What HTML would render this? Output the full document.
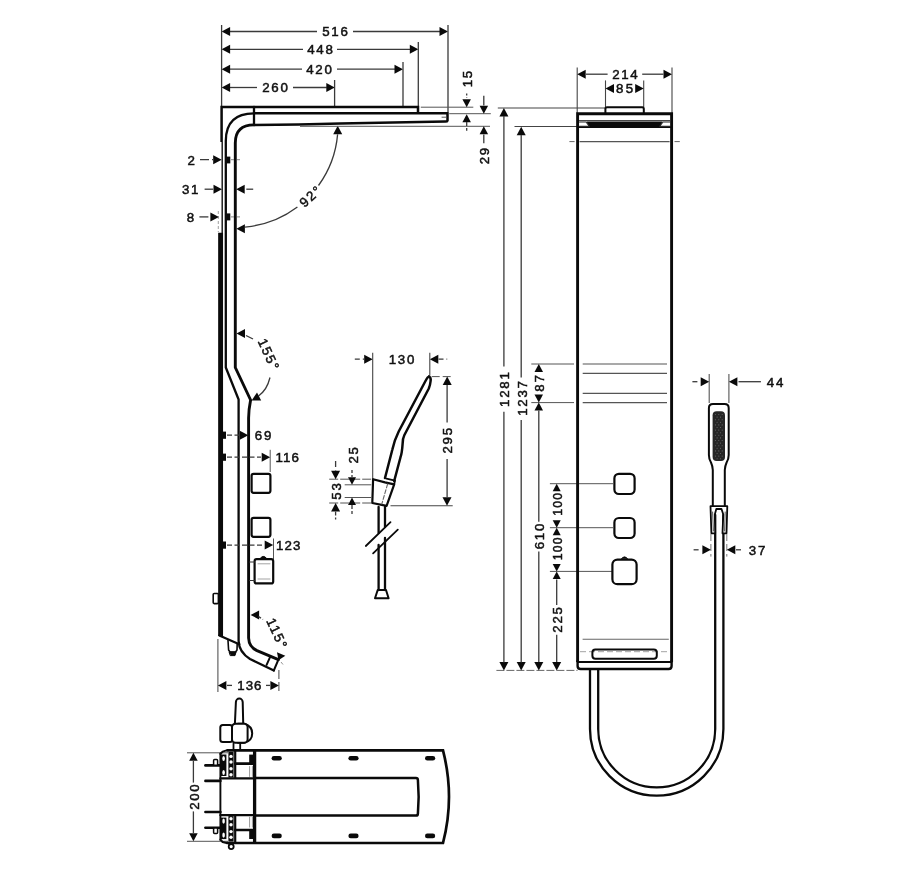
<!DOCTYPE html>
<html lang="en"><head><meta charset="utf-8"><title>Shower panel dimensions</title>
<style>
html,body{margin:0;padding:0;background:#fff;}
svg{display:block;filter:blur(0.4px);}
text{font-family:"Liberation Sans",sans-serif;fill:#111;stroke:#111;stroke-width:0.5px;}
</style></head><body>
<svg width="900" height="874" viewBox="0 0 900 874">
<rect width="900" height="874" fill="#fff"/>
<line x1="229.6" y1="31.5" x2="317.0" y2="31.5" stroke="#3a3a3a" stroke-width="1.3" stroke-linecap="butt"/>
<line x1="353.0" y1="31.5" x2="440.0" y2="31.5" stroke="#3a3a3a" stroke-width="1.3" stroke-linecap="butt"/>
<polygon points="221.6,31.5 230.1,27.0 230.1,36.0" fill="#0a0a0a"/>
<polygon points="448.0,31.5 439.5,27.0 439.5,36.0" fill="#0a0a0a"/>
<text x="335.9" y="36.3" text-anchor="middle" font-size="13.3" letter-spacing="1.7">516</text>
<line x1="229.6" y1="49.3" x2="303.0" y2="49.3" stroke="#3a3a3a" stroke-width="1.3" stroke-linecap="butt"/>
<line x1="337.0" y1="49.3" x2="410.3" y2="49.3" stroke="#3a3a3a" stroke-width="1.3" stroke-linecap="butt"/>
<polygon points="221.6,49.3 230.1,44.8 230.1,53.8" fill="#0a0a0a"/>
<polygon points="418.3,49.3 409.8,44.8 409.8,53.8" fill="#0a0a0a"/>
<text x="320.9" y="54.1" text-anchor="middle" font-size="13.3" letter-spacing="1.7">448</text>
<line x1="229.6" y1="69.2" x2="302.0" y2="69.2" stroke="#3a3a3a" stroke-width="1.3" stroke-linecap="butt"/>
<line x1="337.0" y1="69.2" x2="395.0" y2="69.2" stroke="#3a3a3a" stroke-width="1.3" stroke-linecap="butt"/>
<polygon points="221.6,69.2 230.1,64.7 230.1,73.7" fill="#0a0a0a"/>
<polygon points="403.0,69.2 394.5,64.7 394.5,73.7" fill="#0a0a0a"/>
<text x="319.9" y="74.0" text-anchor="middle" font-size="13.3" letter-spacing="1.7">420</text>
<line x1="229.6" y1="87.5" x2="257.0" y2="87.5" stroke="#3a3a3a" stroke-width="1.3" stroke-linecap="butt"/>
<line x1="293.0" y1="87.5" x2="326.8" y2="87.5" stroke="#3a3a3a" stroke-width="1.3" stroke-linecap="butt"/>
<polygon points="221.6,87.5 230.1,83.0 230.1,92.0" fill="#0a0a0a"/>
<polygon points="334.8,87.5 326.3,83.0 326.3,92.0" fill="#0a0a0a"/>
<text x="275.9" y="92.3" text-anchor="middle" font-size="13.3" letter-spacing="1.7">260</text>
<line x1="221.6" y1="25.0" x2="221.6" y2="106.0" stroke="#3a3a3a" stroke-width="1.3" stroke-linecap="butt"/>
<line x1="448.0" y1="25.0" x2="448.0" y2="113.0" stroke="#3a3a3a" stroke-width="1.3" stroke-linecap="butt"/>
<line x1="418.3" y1="42.0" x2="418.3" y2="106.0" stroke="#3a3a3a" stroke-width="1.3" stroke-linecap="butt"/>
<line x1="403.0" y1="62.0" x2="403.0" y2="106.0" stroke="#3a3a3a" stroke-width="1.3" stroke-linecap="butt"/>
<line x1="334.6" y1="80.0" x2="334.6" y2="106.0" stroke="#3a3a3a" stroke-width="1.3" stroke-linecap="butt"/>
<path d="M221.6,142 L221.6,107 L418,107 L418,113" fill="none" stroke="#0a0a0a" stroke-width="2.5" stroke-linejoin="miter" stroke-linecap="butt"/>
<path d="M254,107 L254,124.8" fill="none" stroke="#0a0a0a" stroke-width="2.3" stroke-linejoin="round" stroke-linecap="round"/>
<path d="M254,113.2 L447.5,113.2 L447.5,120.6 Q447.2,121.6 445.5,121.6 L340,123.6 Q300,124.9 254,124.9" fill="none" stroke="#0a0a0a" stroke-width="2.5" stroke-linejoin="round" stroke-linecap="round"/>
<path d="M442,117.2 L446,117.2" fill="none" stroke="#555" stroke-width="1" stroke-linejoin="round" stroke-linecap="round"/>
<path d="M254,113.4 Q225.8,113.4 225.8,141 L225.8,367.5 L238.6,399.5 L238.6,641 Q239,652 250,659 L273.8,670.5" fill="none" stroke="#0a0a0a" stroke-width="2.3" stroke-linejoin="round" stroke-linecap="round"/>
<path d="M254,124.9 Q235.3,124.9 235.3,143 L235.3,367.5 L250.6,400 Q248.6,410 248.6,418 L248.6,638 Q249,647 257,650.6 L278.4,659.6" fill="none" stroke="#0a0a0a" stroke-width="2.9" stroke-linejoin="round" stroke-linecap="round"/>
<path d="M270.4,656.4 L266.6,664.9 M278.4,659.6 L273.8,670.5" fill="none" stroke="#0a0a0a" stroke-width="2" stroke-linejoin="round" stroke-linecap="round"/>
<line x1="222.2" y1="142.0" x2="222.2" y2="233.0" stroke="#111" stroke-width="1.4" stroke-linecap="butt"/>
<line x1="218.3" y1="211.0" x2="218.3" y2="232.0" stroke="#888" stroke-width="0.8" stroke-dasharray="3 2" stroke-linecap="butt"/>
<line x1="220.6" y1="232.8" x2="220.6" y2="636.0" stroke="#0a0a0a" stroke-width="4.9" stroke-linecap="butt"/>
<path d="M219.3,635.4 L239.3,644.2" fill="none" stroke="#0a0a0a" stroke-width="2.2" stroke-linejoin="round" stroke-linecap="round"/>
<path d="M228,640.5 L228.6,650 L230,652 L235.6,652 L237,650 L237.2,643.5" fill="none" stroke="#0a0a0a" stroke-width="1.6" stroke-linejoin="round" stroke-linecap="round"/>
<path d="M229.5,652 L236,652 L235,655.6 L230.6,655.6 Z" fill="#0a0a0a" stroke="#0a0a0a" stroke-width="1" stroke-linejoin="round" stroke-linecap="round"/>
<rect x="213.2" y="593.5" width="5.2" height="10.1" rx="1" ry="1" fill="none" stroke="#0a0a0a" stroke-width="1.6"/>
<text x="192.0" y="164.5" text-anchor="middle" font-size="13.3" letter-spacing="1.7">2</text>
<line x1="200.0" y1="159.7" x2="213.0" y2="159.7" stroke="#3a3a3a" stroke-width="1.3" stroke-dasharray="9 3" stroke-linecap="butt"/>
<polygon points="221.7,159.7 213.2,155.2 213.2,164.2" fill="#0a0a0a"/>
<rect x="226.3" y="156.6" width="4" height="6.8" fill="#0a0a0a"/>
<line x1="231.0" y1="159.7" x2="240.0" y2="159.7" stroke="#777" stroke-width="0.9" stroke-dasharray="3 3" stroke-linecap="butt"/>
<text x="191.0" y="194.0" text-anchor="middle" font-size="13.3" letter-spacing="1.7">31</text>
<line x1="204.6" y1="189.2" x2="213.2" y2="189.2" stroke="#3a3a3a" stroke-width="1.3" stroke-linecap="butt"/>
<polygon points="222.0,189.2 213.5,184.7 213.5,193.7" fill="#0a0a0a"/>
<polygon points="236.2,189.2 244.7,184.7 244.7,193.7" fill="#0a0a0a"/>
<line x1="246.3" y1="189.2" x2="253.2" y2="189.2" stroke="#3a3a3a" stroke-width="1.3" stroke-linecap="butt"/>
<text x="191.2" y="221.7" text-anchor="middle" font-size="13.3" letter-spacing="1.7">8</text>
<line x1="199.4" y1="216.9" x2="210.3" y2="216.9" stroke="#3a3a3a" stroke-width="1.3" stroke-dasharray="9 3" stroke-linecap="butt"/>
<polygon points="218.9,216.9 210.4,212.4 210.4,221.4" fill="#0a0a0a"/>
<rect x="226.3" y="213.4" width="4" height="7" fill="#0a0a0a"/>
<line x1="231.0" y1="216.9" x2="240.0" y2="216.9" stroke="#777" stroke-width="0.9" stroke-dasharray="3 3" stroke-linecap="butt"/>
<path d="M337.6,134.4 A102,102 0 0 1 318.5,185.5" fill="none" stroke="#3a3a3a" stroke-width="1.3" stroke-linejoin="round" stroke-linecap="butt"/>
<path d="M297.4,207.0 A102,102 0 0 1 244.9,227.1" fill="none" stroke="#3a3a3a" stroke-width="1.3" stroke-linejoin="round" stroke-linecap="butt"/>
<polygon points="337.7,125.7 333.2,134.2 342.2,134.2" fill="#0a0a0a"/>
<polygon points="236.4,228.8 244.9,224.3 244.9,233.3" fill="#0a0a0a"/>
<text x="310.9" y="201.3" text-anchor="middle" font-size="13.3" letter-spacing="1.7" transform="rotate(-42 310.0 196.5)">92°</text>
<polygon points="236.5,333.5 245.0,329.0 245.0,338.0" fill="#0a0a0a"/>
<line x1="246.0" y1="335.5" x2="253.0" y2="339.0" stroke="#3a3a3a" stroke-width="1.3" stroke-linecap="butt"/>
<text x="269.5" y="358.8" text-anchor="middle" font-size="13.3" letter-spacing="1.7" transform="rotate(65 268.6 354.0)">155°</text>
<path d="M270,377.5 Q267,390 258.5,396" fill="none" stroke="#3a3a3a" stroke-width="1.3" stroke-linejoin="round" stroke-linecap="butt"/>
<polygon points="251.6,400.6 257.0,392.6 261.2,400.6" fill="#0a0a0a"/>
<rect x="222.6" y="431.6" width="3.4" height="7.2" fill="#0a0a0a"/>
<line x1="227.0" y1="435.2" x2="240.0" y2="435.2" stroke="#3a3a3a" stroke-width="1.3" stroke-dasharray="5 2.5" stroke-linecap="butt"/>
<polygon points="248.3,435.2 239.8,430.7 239.8,439.7" fill="#0a0a0a"/>
<text x="263.9" y="440.0" text-anchor="middle" font-size="13.3" letter-spacing="1.7">69</text>
<rect x="222.6" y="453.6" width="3.4" height="7.2" fill="#0a0a0a"/>
<line x1="227.0" y1="457.2" x2="261.0" y2="457.2" stroke="#3a3a3a" stroke-width="1.3" stroke-dasharray="5 2.5" stroke-linecap="butt"/>
<polygon points="270.2,457.2 261.7,452.7 261.7,461.7" fill="#0a0a0a"/>
<text x="287.8" y="462.0" text-anchor="middle" font-size="13.3" letter-spacing="1.2">116</text>
<line x1="270.2" y1="449.8" x2="270.2" y2="472.0" stroke="#555" stroke-width="1" stroke-linecap="butt"/>
<rect x="222.6" y="541.5" width="3.4" height="7.2" fill="#0a0a0a"/>
<line x1="227.0" y1="545.1" x2="264.0" y2="545.1" stroke="#3a3a3a" stroke-width="1.3" stroke-dasharray="5 2.5" stroke-linecap="butt"/>
<polygon points="273.2,545.1 264.7,540.6 264.7,549.6" fill="#0a0a0a"/>
<text x="288.8" y="549.9" text-anchor="middle" font-size="13.3" letter-spacing="1.2">123</text>
<line x1="273.5" y1="538.5" x2="273.5" y2="559.0" stroke="#555" stroke-width="1" stroke-linecap="butt"/>
<rect x="251.6" y="473.8" width="18.8" height="19.0" rx="2" ry="2" fill="none" stroke="#0a0a0a" stroke-width="2.2"/>
<rect x="251.6" y="517.8" width="18.8" height="19.0" rx="2" ry="2" fill="none" stroke="#0a0a0a" stroke-width="2.2"/>
<rect x="254.6" y="559.2" width="18.6" height="24.2" rx="2" ry="2" fill="none" stroke="#0a0a0a" stroke-width="2.2"/>
<path d="M249.5,562 L254.5,562 M249.5,580.5 L254.5,580.5" fill="none" stroke="#333" stroke-width="1.2" stroke-linejoin="round" stroke-linecap="round"/>
<path d="M258,563.8 L270,563.8 M258,579 L270,579" fill="none" stroke="#999" stroke-width="0.9" stroke-linejoin="round" stroke-linecap="round"/>
<path d="M260.6,558 Q263.4,554.6 266.2,558 Z" fill="#0a0a0a" stroke="#0a0a0a" stroke-width="1" stroke-linejoin="round" stroke-linecap="round"/>
<polygon points="250.6,614.9 259.1,610.4 259.1,619.4" fill="#0a0a0a"/>
<line x1="258.5" y1="616.5" x2="263.0" y2="619.5" stroke="#3a3a3a" stroke-width="1.3" stroke-dasharray="3 2" stroke-linecap="butt"/>
<text x="277.9" y="637.8" text-anchor="middle" font-size="13.3" letter-spacing="1.7" transform="rotate(65 277.0 633.0)">115°</text>
<polygon points="278.5,660.2 277.0,652.2 285.3,655.7" fill="#0a0a0a"/>
<line x1="281.0" y1="662.0" x2="283.0" y2="664.5" stroke="#888" stroke-width="0.9" stroke-linecap="butt"/>
<line x1="217.9" y1="639.0" x2="217.9" y2="692.0" stroke="#555" stroke-width="1.1" stroke-linecap="butt"/>
<line x1="278.9" y1="670.0" x2="278.9" y2="692.0" stroke="#555" stroke-width="1.1" stroke-dasharray="9 3" stroke-linecap="butt"/>
<polygon points="217.9,685.4 226.4,680.9 226.4,689.9" fill="#0a0a0a"/>
<polygon points="278.9,685.4 270.4,680.9 270.4,689.9" fill="#0a0a0a"/>
<line x1="227.0" y1="685.4" x2="232.0" y2="685.4" stroke="#3a3a3a" stroke-width="1.3" stroke-linecap="butt"/>
<line x1="266.0" y1="685.4" x2="270.0" y2="685.4" stroke="#3a3a3a" stroke-width="1.3" stroke-linecap="butt"/>
<text x="249.9" y="690.2" text-anchor="middle" font-size="13.3" letter-spacing="1.0">136</text>
<line x1="354.8" y1="359.2" x2="364.0" y2="359.2" stroke="#3a3a3a" stroke-width="1.3" stroke-dasharray="5 3" stroke-linecap="butt"/>
<polygon points="372.7,359.2 364.2,354.7 364.2,363.7" fill="#0a0a0a"/>
<polygon points="429.8,359.2 438.3,354.7 438.3,363.7" fill="#0a0a0a"/>
<line x1="438.5" y1="359.2" x2="447.2" y2="359.2" stroke="#3a3a3a" stroke-width="1.3" stroke-dasharray="5 3" stroke-linecap="butt"/>
<text x="402.4" y="364.4" text-anchor="middle" font-size="13.3" letter-spacing="1.7">130</text>
<line x1="372.7" y1="352.8" x2="372.7" y2="479.0" stroke="#444" stroke-width="1.1" stroke-linecap="butt"/>
<line x1="429.8" y1="352.8" x2="429.8" y2="375.7" stroke="#444" stroke-width="1.1" stroke-linecap="butt"/>
<line x1="431.7" y1="376.6" x2="453.6" y2="376.6" stroke="#555" stroke-width="1" stroke-dasharray="8 3" stroke-linecap="butt"/>
<line x1="390.5" y1="505.8" x2="452.7" y2="505.8" stroke="#444" stroke-width="1.1" stroke-linecap="butt"/>
<polygon points="447.2,376.6 442.7,385.1 451.7,385.1" fill="#0a0a0a"/>
<polygon points="447.0,505.8 442.5,497.3 451.5,497.3" fill="#0a0a0a"/>
<line x1="447.1" y1="385.0" x2="447.1" y2="422.4" stroke="#3a3a3a" stroke-width="1.3" stroke-linecap="butt"/>
<line x1="447.1" y1="459.0" x2="447.1" y2="497.5" stroke="#3a3a3a" stroke-width="1.3" stroke-linecap="butt"/>
<text x="448.5" y="445.6" text-anchor="middle" font-size="13.3" letter-spacing="1.7" transform="rotate(-90 447.6 440.8)">295</text>
<path d="M428.9,376.6 Q427.5,377 426,380 L398.7,431.5 Q394,441 392.3,449.8 L385,478" fill="none" stroke="#0a0a0a" stroke-width="2.5" stroke-linejoin="round" stroke-linecap="round"/>
<path d="M428.9,376.6 Q431.2,377.5 430.6,381 Q430.2,385 428.8,388.5 L404.4,435 Q402.6,438.5 402.6,444 Q402,453 400.5,457.2 L394.2,481" fill="none" stroke="#0a0a0a" stroke-width="2.5" stroke-linejoin="round" stroke-linecap="round"/>
<path d="M373.1,479.2 L385,482.4 L394.2,484.4 L386.6,505.8 L372.3,503 Z" fill="none" stroke="#0a0a0a" stroke-width="2.2" stroke-linejoin="round" stroke-linecap="round"/>
<path d="M386.5,478.6 L395,480.6 L394.2,484.4" fill="none" stroke="#0a0a0a" stroke-width="1.8" stroke-linejoin="round" stroke-linecap="round"/>
<path d="M387.6,484 L381.8,504" fill="none" stroke="#666" stroke-width="1.1" stroke-linejoin="round" stroke-linecap="round" stroke-dasharray="4 2"/>
<path d="M378.6,507 L378.6,533 M385,507 L385,527" fill="none" stroke="#0a0a0a" stroke-width="2.3" stroke-linejoin="round" stroke-linecap="round"/>
<path d="M378.6,545 L378.6,590 M385,538 L385,590" fill="none" stroke="#0a0a0a" stroke-width="2.3" stroke-linejoin="round" stroke-linecap="round"/>
<path d="M365.8,546 L390.5,522.2 M373.1,553.4 L397.8,529.6" fill="none" stroke="#0a0a0a" stroke-width="1.8" stroke-linejoin="round" stroke-linecap="round"/>
<path d="M377.7,590 L386,590 L388.6,598.2 L375,598.2 Z" fill="none" stroke="#0a0a0a" stroke-width="2" stroke-linejoin="round" stroke-linecap="round"/>
<line x1="329.2" y1="479.2" x2="372.0" y2="479.2" stroke="#555" stroke-width="1" stroke-dasharray="9 2" stroke-linecap="butt"/>
<line x1="329.2" y1="503.0" x2="372.0" y2="503.0" stroke="#555" stroke-width="1" stroke-dasharray="9 2" stroke-linecap="butt"/>
<line x1="344.7" y1="484.8" x2="371.3" y2="484.8" stroke="#555" stroke-width="1" stroke-linecap="butt"/>
<line x1="344.7" y1="497.5" x2="371.3" y2="497.5" stroke="#555" stroke-width="1" stroke-linecap="butt"/>
<polygon points="335.6,479.2 331.1,470.7 340.1,470.7" fill="#0a0a0a"/>
<line x1="335.6" y1="461.0" x2="335.6" y2="470.5" stroke="#3a3a3a" stroke-width="1.3" stroke-dasharray="6 3" stroke-linecap="butt"/>
<polygon points="335.6,503.0 331.1,511.5 340.1,511.5" fill="#0a0a0a"/>
<line x1="335.6" y1="511.5" x2="335.6" y2="519.5" stroke="#3a3a3a" stroke-width="1.3" stroke-dasharray="4 2" stroke-linecap="butt"/>
<polygon points="352.0,484.8 348.0,477.3 356.0,477.3" fill="#0a0a0a"/>
<line x1="352.0" y1="470.0" x2="352.0" y2="477.0" stroke="#3a3a3a" stroke-width="1.3" stroke-dasharray="3 2" stroke-linecap="butt"/>
<polygon points="352.0,497.5 348.0,505.0 356.0,505.0" fill="#0a0a0a"/>
<line x1="352.0" y1="505.0" x2="352.0" y2="514.0" stroke="#3a3a3a" stroke-width="1.3" stroke-dasharray="4 2" stroke-linecap="butt"/>
<text x="337.2" y="496.2" text-anchor="middle" font-size="13.3" letter-spacing="1.7" transform="rotate(-90 336.4 491.4)">53</text>
<text x="353.9" y="460.1" text-anchor="middle" font-size="13.3" letter-spacing="1.7" transform="rotate(-90 353.0 455.3)">25</text>
<line x1="420.8" y1="107.2" x2="473.3" y2="107.2" stroke="#555" stroke-width="1" stroke-linecap="butt"/>
<line x1="449.2" y1="113.7" x2="490.8" y2="113.7" stroke="#555" stroke-width="1" stroke-linecap="butt"/>
<line x1="300.0" y1="126.3" x2="490.0" y2="126.3" stroke="#555" stroke-width="1" stroke-linecap="butt"/>
<polygon points="466.7,107.2 462.4,99.2 470.9,99.2" fill="#0a0a0a"/>
<line x1="466.7" y1="93.5" x2="466.7" y2="98.0" stroke="#3a3a3a" stroke-width="1.3" stroke-dasharray="2 2" stroke-linecap="butt"/>
<polygon points="466.7,114.2 462.4,122.2 470.9,122.2" fill="#0a0a0a"/>
<line x1="466.7" y1="122.0" x2="466.7" y2="130.8" stroke="#3a3a3a" stroke-width="1.3" stroke-dasharray="4 2" stroke-linecap="butt"/>
<text x="468.2" y="83.8" text-anchor="middle" font-size="13.3" letter-spacing="1.7" transform="rotate(-90 467.4 79.0)">15</text>
<polygon points="483.8,113.7 479.6,105.7 488.1,105.7" fill="#0a0a0a"/>
<line x1="483.8" y1="95.8" x2="483.8" y2="105.5" stroke="#3a3a3a" stroke-width="1.3" stroke-linecap="butt"/>
<polygon points="483.8,126.3 479.6,134.3 488.1,134.3" fill="#0a0a0a"/>
<line x1="483.8" y1="134.5" x2="483.8" y2="143.3" stroke="#3a3a3a" stroke-width="1.3" stroke-linecap="butt"/>
<text x="485.2" y="160.8" text-anchor="middle" font-size="13.3" letter-spacing="1.7" transform="rotate(-90 484.4 156.0)">29</text>
<line x1="577.2" y1="67.4" x2="577.2" y2="113.0" stroke="#444" stroke-width="1.1" stroke-linecap="butt"/>
<line x1="672.0" y1="67.4" x2="672.0" y2="113.0" stroke="#444" stroke-width="1.1" stroke-linecap="butt"/>
<polygon points="577.2,74.2 585.7,69.7 585.7,78.7" fill="#0a0a0a"/>
<polygon points="672.0,74.2 663.5,69.7 663.5,78.7" fill="#0a0a0a"/>
<line x1="586.0" y1="74.2" x2="607.6" y2="74.2" stroke="#3a3a3a" stroke-width="1.3" stroke-linecap="butt"/>
<line x1="642.2" y1="74.2" x2="663.5" y2="74.2" stroke="#3a3a3a" stroke-width="1.3" stroke-linecap="butt"/>
<text x="625.8" y="79.0" text-anchor="middle" font-size="13.3" letter-spacing="1.7">214</text>
<line x1="605.5" y1="80.4" x2="605.5" y2="107.0" stroke="#444" stroke-width="1.1" stroke-linecap="butt"/>
<line x1="643.7" y1="80.4" x2="643.7" y2="107.0" stroke="#444" stroke-width="1.1" stroke-linecap="butt"/>
<polygon points="605.5,88.5 614.0,84.0 614.0,93.0" fill="#0a0a0a"/>
<polygon points="643.7,88.5 635.2,84.0 635.2,93.0" fill="#0a0a0a"/>
<text x="625.8" y="93.1" text-anchor="middle" font-size="13.3" letter-spacing="2.3">85</text>
<line x1="497.8" y1="108.0" x2="605.0" y2="108.0" stroke="#444" stroke-width="1.1" stroke-linecap="butt"/>
<line x1="514.5" y1="126.5" x2="577.0" y2="126.5" stroke="#444" stroke-width="1.1" stroke-linecap="butt"/>
<line x1="496.4" y1="670.4" x2="577.5" y2="670.4" stroke="#666" stroke-width="1" stroke-dasharray="8 2" stroke-linecap="butt"/>
<polygon points="503.9,108.0 499.4,116.5 508.4,116.5" fill="#0a0a0a"/>
<polygon points="503.9,670.4 499.4,661.9 508.4,661.9" fill="#0a0a0a"/>
<line x1="503.9" y1="116.0" x2="503.9" y2="366.4" stroke="#3a3a3a" stroke-width="1.3" stroke-linecap="butt"/>
<line x1="503.9" y1="411.7" x2="503.9" y2="662.5" stroke="#3a3a3a" stroke-width="1.3" stroke-linecap="butt"/>
<text x="505.2" y="394.3" text-anchor="middle" font-size="13.3" letter-spacing="1.7" transform="rotate(-90 504.4 389.5)">1281</text>
<polygon points="521.2,126.7 516.7,135.2 525.7,135.2" fill="#0a0a0a"/>
<polygon points="521.2,670.4 516.7,661.9 525.7,661.9" fill="#0a0a0a"/>
<line x1="521.2" y1="135.0" x2="521.2" y2="377.4" stroke="#3a3a3a" stroke-width="1.3" stroke-linecap="butt"/>
<line x1="521.2" y1="420.0" x2="521.2" y2="662.5" stroke="#3a3a3a" stroke-width="1.3" stroke-linecap="butt"/>
<text x="522.6" y="403.2" text-anchor="middle" font-size="13.3" letter-spacing="1.7" transform="rotate(-90 521.8 398.4)">1237</text>
<line x1="531.3" y1="364.0" x2="574.0" y2="364.0" stroke="#555" stroke-width="1" stroke-linecap="butt"/>
<line x1="531.3" y1="402.6" x2="574.0" y2="402.6" stroke="#555" stroke-width="1" stroke-linecap="butt"/>
<polygon points="538.8,364.0 534.5,372.0 543.0,372.0" fill="#0a0a0a"/>
<polygon points="538.8,402.6 534.5,394.6 543.0,394.6" fill="#0a0a0a"/>
<polygon points="538.8,402.6 534.5,410.6 543.0,410.6" fill="#0a0a0a"/>
<text x="540.2" y="388.2" text-anchor="middle" font-size="13.3" letter-spacing="1.7" transform="rotate(-90 539.4 383.4)">87</text>
<line x1="538.8" y1="410.5" x2="538.8" y2="521.8" stroke="#3a3a3a" stroke-width="1.3" stroke-linecap="butt"/>
<line x1="538.8" y1="551.5" x2="538.8" y2="662.5" stroke="#3a3a3a" stroke-width="1.3" stroke-linecap="butt"/>
<polygon points="538.8,670.4 534.3,661.9 543.3,661.9" fill="#0a0a0a"/>
<text x="540.2" y="541.2" text-anchor="middle" font-size="13.3" letter-spacing="1.7" transform="rotate(-90 539.4 536.4)">610</text>
<line x1="549.9" y1="483.7" x2="613.0" y2="483.7" stroke="#555" stroke-width="1" stroke-linecap="butt"/>
<line x1="549.9" y1="527.7" x2="613.0" y2="527.7" stroke="#555" stroke-width="1" stroke-linecap="butt"/>
<line x1="549.9" y1="571.4" x2="613.0" y2="571.4" stroke="#555" stroke-width="1" stroke-linecap="butt"/>
<polygon points="556.7,483.7 552.7,491.2 560.7,491.2" fill="#0a0a0a"/>
<polygon points="556.7,527.7 552.7,520.2 560.7,520.2" fill="#0a0a0a"/>
<polygon points="556.7,527.7 552.7,535.2 560.7,535.2" fill="#0a0a0a"/>
<polygon points="556.7,571.4 552.7,563.9 560.7,563.9" fill="#0a0a0a"/>
<polygon points="556.7,571.4 552.7,578.9 560.7,578.9" fill="#0a0a0a"/>
<text x="557.9" y="508.8" text-anchor="middle" font-size="12.3" letter-spacing="1.1" transform="rotate(-90 557.3 504.4)">100</text>
<text x="557.9" y="553.3" text-anchor="middle" font-size="12.3" letter-spacing="1.1" transform="rotate(-90 557.3 548.9)">100</text>
<line x1="556.7" y1="579.5" x2="556.7" y2="605.0" stroke="#3a3a3a" stroke-width="1.3" stroke-linecap="butt"/>
<line x1="556.7" y1="634.7" x2="556.7" y2="662.5" stroke="#3a3a3a" stroke-width="1.3" stroke-linecap="butt"/>
<polygon points="556.7,670.4 552.2,661.9 561.2,661.9" fill="#0a0a0a"/>
<text x="558.2" y="624.7" text-anchor="middle" font-size="13.3" letter-spacing="1.7" transform="rotate(-90 557.3 619.9)">225</text>
<path d="M577.6,662 L577.6,113.8 L671.6,113.8 L671.6,662" fill="none" stroke="#0a0a0a" stroke-width="2.9" stroke-linejoin="miter" stroke-linecap="butt"/>
<path d="M577.6,661 L577.6,666 Q577.6,669 580.6,669 L668.6,669 Q671.6,669 671.6,666 L671.6,661" fill="none" stroke="#0a0a0a" stroke-width="2.4" stroke-linejoin="round" stroke-linecap="round"/>
<path d="M577.6,662 L671.6,662" fill="none" stroke="#0a0a0a" stroke-width="1.8" stroke-linejoin="round" stroke-linecap="round"/>
<path d="M605.4,113.5 L605.4,108.8 Q605.4,107.3 607,107.3 L642.2,107.3 Q643.8,107.3 643.8,108.8 L643.8,113.5" fill="none" stroke="#0a0a0a" stroke-width="2" stroke-linejoin="round" stroke-linecap="round"/>
<line x1="579.0" y1="120.6" x2="670.4" y2="120.6" stroke="#333" stroke-width="1" stroke-linecap="butt"/>
<polygon points="586.5,121.6 662.5,121.6 659.5,127.4 589.5,127.4" fill="#0a0a0a"/>
<line x1="577.6" y1="127.2" x2="671.6" y2="127.2" stroke="#0a0a0a" stroke-width="1.8" stroke-linecap="butt"/>
<path d="M579.5,122 L586,122 L589.5,126.3 L579.5,126.3" fill="none" stroke="#222" stroke-width="1.1" stroke-linejoin="round" stroke-linecap="round"/>
<path d="M669.8,122 L663,122 L659.5,126.3 L669.8,126.3" fill="none" stroke="#222" stroke-width="1.1" stroke-linejoin="round" stroke-linecap="round"/>
<line x1="569.4" y1="141.6" x2="574.6" y2="141.6" stroke="#666" stroke-width="1" stroke-linecap="butt"/>
<line x1="579.5" y1="141.6" x2="669.6" y2="141.6" stroke="#555" stroke-width="1.1" stroke-linecap="butt"/>
<line x1="674.5" y1="141.6" x2="679.8" y2="141.6" stroke="#666" stroke-width="1" stroke-linecap="butt"/>
<line x1="582.7" y1="364.0" x2="667.0" y2="364.0" stroke="#555" stroke-width="1.2" stroke-linecap="butt"/>
<line x1="582.7" y1="373.3" x2="667.0" y2="373.3" stroke="#555" stroke-width="1.2" stroke-linecap="butt"/>
<line x1="582.7" y1="393.3" x2="667.0" y2="393.3" stroke="#555" stroke-width="1.2" stroke-linecap="butt"/>
<line x1="582.7" y1="402.6" x2="667.0" y2="402.6" stroke="#555" stroke-width="1.2" stroke-linecap="butt"/>
<line x1="582.6" y1="639.2" x2="668.8" y2="639.2" stroke="#666" stroke-width="1.1" stroke-linecap="butt"/>
<line x1="580.0" y1="651.7" x2="670.0" y2="651.7" stroke="#999" stroke-width="0.9" stroke-dasharray="6 3" stroke-linecap="butt"/>
<rect x="592.4" y="649.5" width="64.4" height="9.3" rx="3" ry="3" fill="none" stroke="#0a0a0a" stroke-width="2"/>
<rect x="614.4" y="473.8" width="20.2" height="20.2" rx="4.5" ry="4.5" fill="none" stroke="#0a0a0a" stroke-width="2.2"/>
<rect x="614.4" y="518.0" width="20.2" height="20.0" rx="4.5" ry="4.5" fill="none" stroke="#0a0a0a" stroke-width="2.2"/>
<rect x="612.4" y="559.6" width="24.2" height="24.6" rx="5" ry="5" fill="none" stroke="#0a0a0a" stroke-width="2.2"/>
<path d="M621.6,558.6 Q624.5,555 627.4,558.6 Z" fill="#0a0a0a" stroke="#0a0a0a" stroke-width="1" stroke-linejoin="round" stroke-linecap="round"/>
<path d="M590,670 L590,728.9 A66.7,66.7 0 0 0 723.4,728.9 L723.4,515" fill="none" stroke="#0a0a0a" stroke-width="2.3" stroke-linejoin="round" stroke-linecap="round"/>
<path d="M598.2,670 L598.2,728.9 A58.5,58.5 0 0 0 715.2,728.9 L715.2,515" fill="none" stroke="#0a0a0a" stroke-width="2.3" stroke-linejoin="round" stroke-linecap="round"/>
<path d="M712.8,506 L712.8,470 Q712.6,466 711,462.5 Q708.9,459 708.9,455 L708.9,408 Q708.9,404 713,404 L724.6,404 Q728.7,404 728.7,408 L728.7,455 Q728.7,459 726.6,462.5 Q725,466 724.8,470 L724.8,506" fill="#fff" stroke="#0a0a0a" stroke-width="2" stroke-linejoin="round" stroke-linecap="round"/>
<rect x="712.6" y="411.2" width="12.4" height="49.8" rx="4" ry="4" fill="#262626"/>
<g fill="#6a6a6a">
<circle cx="715.4" cy="414.5" r="0.55"/>
<circle cx="718.8" cy="414.5" r="0.55"/>
<circle cx="722.2" cy="414.5" r="0.55"/>
<circle cx="717.1" cy="417.1" r="0.55"/>
<circle cx="720.5" cy="417.1" r="0.55"/>
<circle cx="715.4" cy="419.7" r="0.55"/>
<circle cx="718.8" cy="419.7" r="0.55"/>
<circle cx="722.2" cy="419.7" r="0.55"/>
<circle cx="717.1" cy="422.3" r="0.55"/>
<circle cx="720.5" cy="422.3" r="0.55"/>
<circle cx="715.4" cy="424.9" r="0.55"/>
<circle cx="718.8" cy="424.9" r="0.55"/>
<circle cx="722.2" cy="424.9" r="0.55"/>
<circle cx="717.1" cy="427.5" r="0.55"/>
<circle cx="720.5" cy="427.5" r="0.55"/>
<circle cx="715.4" cy="430.1" r="0.55"/>
<circle cx="718.8" cy="430.1" r="0.55"/>
<circle cx="722.2" cy="430.1" r="0.55"/>
<circle cx="717.1" cy="432.7" r="0.55"/>
<circle cx="720.5" cy="432.7" r="0.55"/>
<circle cx="715.4" cy="435.3" r="0.55"/>
<circle cx="718.8" cy="435.3" r="0.55"/>
<circle cx="722.2" cy="435.3" r="0.55"/>
<circle cx="717.1" cy="437.9" r="0.55"/>
<circle cx="720.5" cy="437.9" r="0.55"/>
<circle cx="715.4" cy="440.5" r="0.55"/>
<circle cx="718.8" cy="440.5" r="0.55"/>
<circle cx="722.2" cy="440.5" r="0.55"/>
<circle cx="717.1" cy="443.1" r="0.55"/>
<circle cx="720.5" cy="443.1" r="0.55"/>
<circle cx="715.4" cy="445.7" r="0.55"/>
<circle cx="718.8" cy="445.7" r="0.55"/>
<circle cx="722.2" cy="445.7" r="0.55"/>
<circle cx="717.1" cy="448.3" r="0.55"/>
<circle cx="720.5" cy="448.3" r="0.55"/>
<circle cx="715.4" cy="450.9" r="0.55"/>
<circle cx="718.8" cy="450.9" r="0.55"/>
<circle cx="722.2" cy="450.9" r="0.55"/>
<circle cx="717.1" cy="453.5" r="0.55"/>
<circle cx="720.5" cy="453.5" r="0.55"/>
<circle cx="715.4" cy="456.1" r="0.55"/>
<circle cx="718.8" cy="456.1" r="0.55"/>
<circle cx="722.2" cy="456.1" r="0.55"/>
<circle cx="717.1" cy="458.7" r="0.55"/>
<circle cx="720.5" cy="458.7" r="0.55"/>
</g>
<path d="M710.5,506.2 L727.3,506.2 L726.5,533.3 L722.5,533.3 L723.3,514.5 L721.5,509 L716.3,509 L714.8,514.5 L715.2,533.3 L711.4,533.3 Z" fill="#fff" stroke="#0a0a0a" stroke-width="1.8" stroke-linejoin="round" stroke-linecap="round"/>
<path d="M712.6,512 L713.4,531 M725.2,512 L724.6,531" fill="none" stroke="#555" stroke-width="1" stroke-linejoin="round" stroke-linecap="round"/>
<line x1="709.2" y1="374.0" x2="709.2" y2="403.0" stroke="#555" stroke-width="1.1" stroke-linecap="butt"/>
<line x1="728.9" y1="374.0" x2="728.9" y2="403.0" stroke="#555" stroke-width="1.1" stroke-linecap="butt"/>
<line x1="692.4" y1="381.7" x2="700.0" y2="381.7" stroke="#3a3a3a" stroke-width="1.3" stroke-dasharray="5 3" stroke-linecap="butt"/>
<polygon points="709.2,381.7 700.7,377.2 700.7,386.2" fill="#0a0a0a"/>
<polygon points="728.9,381.7 737.4,377.2 737.4,386.2" fill="#0a0a0a"/>
<line x1="738.5" y1="381.7" x2="760.9" y2="381.7" stroke="#3a3a3a" stroke-width="1.3" stroke-linecap="butt"/>
<text x="775.9" y="386.6" text-anchor="middle" font-size="13.3" letter-spacing="1.7">44</text>
<line x1="710.9" y1="534.0" x2="710.9" y2="556.6" stroke="#777" stroke-width="1" stroke-dasharray="7 3" stroke-linecap="butt"/>
<line x1="726.8" y1="534.0" x2="726.8" y2="556.6" stroke="#777" stroke-width="1" stroke-dasharray="7 3" stroke-linecap="butt"/>
<line x1="693.6" y1="549.8" x2="701.0" y2="549.8" stroke="#3a3a3a" stroke-width="1.3" stroke-dasharray="5 3" stroke-linecap="butt"/>
<polygon points="710.9,549.8 702.4,545.3 702.4,554.3" fill="#0a0a0a"/>
<polygon points="726.8,549.8 735.3,545.3 735.3,554.3" fill="#0a0a0a"/>
<line x1="736.0" y1="549.8" x2="743.0" y2="549.8" stroke="#3a3a3a" stroke-width="1.3" stroke-dasharray="5 3" stroke-linecap="butt"/>
<text x="757.9" y="554.7" text-anchor="middle" font-size="13.3" letter-spacing="1.7">37</text>
<line x1="187.0" y1="752.8" x2="228.0" y2="752.8" stroke="#555" stroke-width="1" stroke-linecap="butt"/>
<line x1="187.0" y1="841.3" x2="228.0" y2="841.3" stroke="#555" stroke-width="1" stroke-linecap="butt"/>
<polygon points="193.4,752.8 189.2,760.8 197.7,760.8" fill="#0a0a0a"/>
<polygon points="193.4,841.3 189.2,833.3 197.7,833.3" fill="#0a0a0a"/>
<line x1="193.4" y1="761.0" x2="193.4" y2="782.6" stroke="#3a3a3a" stroke-width="1.3" stroke-linecap="butt"/>
<line x1="193.4" y1="811.4" x2="193.4" y2="833.0" stroke="#3a3a3a" stroke-width="1.3" stroke-linecap="butt"/>
<text x="194.8" y="801.8" text-anchor="middle" font-size="13.3" letter-spacing="1.7" transform="rotate(-90 194.0 797.0)">200</text>
<path d="M226.5,750.4 L443,750.4 Q455,797 443,843 L226.5,843" fill="none" stroke="#0a0a0a" stroke-width="2.7" stroke-linejoin="miter" stroke-linecap="butt"/>
<path d="M254.6,750 L254.6,843.4" fill="none" stroke="#0a0a0a" stroke-width="3.3" stroke-linejoin="round" stroke-linecap="butt"/>
<path d="M254.6,778 L416,778 Q417.8,778 417.9,780 Q419.4,797 417.9,813.6 Q417.8,815.6 416,815.6 L254.6,815.6" fill="none" stroke="#0a0a0a" stroke-width="2.5" stroke-linejoin="round" stroke-linecap="round"/>
<rect x="271.6" y="756" width="10.2" height="4.6" rx="2.3" fill="#0a0a0a"/>
<rect x="271.6" y="833.6" width="10.2" height="4.6" rx="2.3" fill="#0a0a0a"/>
<rect x="348.4" y="756" width="10.2" height="4.6" rx="2.3" fill="#0a0a0a"/>
<rect x="348.4" y="833.6" width="10.2" height="4.6" rx="2.3" fill="#0a0a0a"/>
<rect x="425" y="756" width="10.2" height="4.6" rx="2.3" fill="#0a0a0a"/>
<rect x="425" y="833.6" width="10.2" height="4.6" rx="2.3" fill="#0a0a0a"/>
<path d="M234.9,723.5 L235.9,702 A3.4,3.4 0 0 1 242.7,702 L243.2,723.5" fill="#fff" stroke="#0a0a0a" stroke-width="2" stroke-linejoin="round" stroke-linecap="round"/>
<rect x="220.3" y="725.0" width="12.1" height="17.0" rx="2.5" ry="2.5" fill="#fff" stroke="#0a0a0a" stroke-width="2"/>
<path d="M238,723.8 L244,723.8 Q252.2,726 252.2,733.4 Q252.2,741 244,742.8 L238,742.8 Z" fill="#fff" stroke="#0a0a0a" stroke-width="2" stroke-linejoin="round" stroke-linecap="round"/>
<rect x="232.0" y="723.8" width="15.6" height="19.0" rx="3.5" ry="3.5" fill="#fff" stroke="#0a0a0a" stroke-width="2"/>
<path d="M233.5,743.6 L233.5,750 M240.2,743.6 L240.2,750" fill="none" stroke="#0a0a0a" stroke-width="1.8" stroke-linejoin="round" stroke-linecap="round"/>
<line x1="205.4" y1="765.4" x2="220.4" y2="765.4" stroke="#0a0a0a" stroke-width="2.6" stroke-linecap="round"/>
<line x1="205.4" y1="780.9" x2="220.4" y2="780.9" stroke="#0a0a0a" stroke-width="2.6" stroke-linecap="round"/>
<line x1="205.4" y1="812.0" x2="220.4" y2="812.0" stroke="#0a0a0a" stroke-width="2.6" stroke-linecap="round"/>
<line x1="205.4" y1="827.8" x2="220.4" y2="827.8" stroke="#0a0a0a" stroke-width="2.6" stroke-linecap="round"/>
<rect x="213.6" y="759.6" width="4" height="5.6" rx="1" fill="#fff" stroke="#0a0a0a" stroke-width="1.5"/>
<rect x="213.6" y="828" width="4" height="5.6" rx="1" fill="#fff" stroke="#0a0a0a" stroke-width="1.5"/>
<path d="M226.6,750.4 L222.6,751.6 L220.4,754" fill="none" stroke="#0a0a0a" stroke-width="2" stroke-linejoin="round" stroke-linecap="round"/>
<path d="M226.6,843 L222.6,842 L220.4,839.6" fill="none" stroke="#0a0a0a" stroke-width="2" stroke-linejoin="round" stroke-linecap="round"/>
<path d="M220.4,753.5 L220.4,840" fill="none" stroke="#0a0a0a" stroke-width="1.9" stroke-linejoin="round" stroke-linecap="round"/>
<path d="M220.4,778.4 L254.6,778.4 M220.4,815.2 L254.6,815.2" fill="none" stroke="#0a0a0a" stroke-width="2.2" stroke-linejoin="round" stroke-linecap="round"/>
<rect x="221" y="754.5" width="5.4" height="21.5" fill="#0a0a0a"/>
<ellipse cx="223.6" cy="758.5" rx="1.3" ry="2.6" fill="#fff"/>
<ellipse cx="223.6" cy="772.5" rx="1.3" ry="2.6" fill="#fff"/>
<rect x="228.4" y="752.0" width="5.2" height="25.5" fill="#0a0a0a"/>
<circle cx="231" cy="756.4" r="1.7" fill="#fff"/>
<circle cx="231" cy="762.0" r="1.7" fill="#fff"/>
<circle cx="231" cy="768.8" r="1.7" fill="#fff"/>
<circle cx="231" cy="774.8" r="1.7" fill="#fff"/>
<path d="M235.2,751.5 L235.2,777.5" fill="none" stroke="#0a0a0a" stroke-width="2.2" stroke-linejoin="round" stroke-linecap="round"/>
<path d="M235.2,763.6 L253.5,763.6" fill="none" stroke="#0a0a0a" stroke-width="2.6" stroke-linejoin="round" stroke-linecap="round"/>
<rect x="249.2" y="754.6" width="4.4" height="9.0" fill="#0a0a0a"/>
<path d="M249.6,766.5 L249.6,776.5" fill="none" stroke="#999" stroke-width="1" stroke-linejoin="round" stroke-linecap="round"/>
<path d="M252.4,766.5 L252.4,776.5" fill="none" stroke="#999" stroke-width="1" stroke-linejoin="round" stroke-linecap="round"/>
<rect x="221" y="817.6" width="5.4" height="21.5" fill="#0a0a0a"/>
<ellipse cx="223.6" cy="835.1" rx="1.3" ry="2.6" fill="#fff"/>
<ellipse cx="223.6" cy="821.1" rx="1.3" ry="2.6" fill="#fff"/>
<rect x="228.4" y="816.1" width="5.2" height="25.5" fill="#0a0a0a"/>
<circle cx="231" cy="837.2" r="1.7" fill="#fff"/>
<circle cx="231" cy="831.6" r="1.7" fill="#fff"/>
<circle cx="231" cy="824.8" r="1.7" fill="#fff"/>
<circle cx="231" cy="818.8" r="1.7" fill="#fff"/>
<path d="M235.2,842.1 L235.2,816.1" fill="none" stroke="#0a0a0a" stroke-width="2.2" stroke-linejoin="round" stroke-linecap="round"/>
<path d="M235.2,830.0 L253.5,830.0" fill="none" stroke="#0a0a0a" stroke-width="2.6" stroke-linejoin="round" stroke-linecap="round"/>
<rect x="249.2" y="830.0" width="4.4" height="9.0" fill="#0a0a0a"/>
<path d="M249.6,827.1 L249.6,817.1" fill="none" stroke="#999" stroke-width="1" stroke-linejoin="round" stroke-linecap="round"/>
<path d="M252.4,827.1 L252.4,817.1" fill="none" stroke="#999" stroke-width="1" stroke-linejoin="round" stroke-linecap="round"/>
<path d="M229,843.5 L229.4,845" fill="none" stroke="#0a0a0a" stroke-width="1.6" stroke-linejoin="round" stroke-linecap="round"/>
<circle cx="231.2" cy="846.6" r="2.5" fill="#fff" stroke="#0a0a0a" stroke-width="1.8"/>
</svg>
</body></html>
